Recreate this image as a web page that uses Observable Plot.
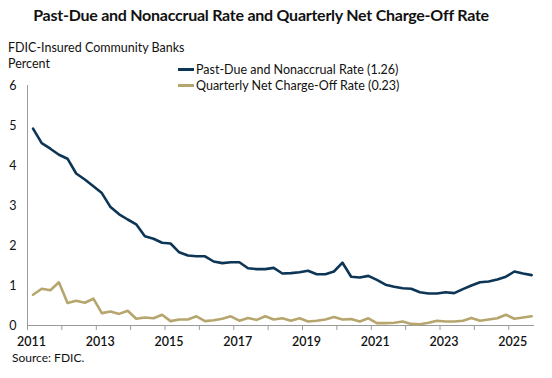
<!DOCTYPE html>
<html>
<head>
<meta charset="utf-8">
<script src="https://cdn.jsdelivr.net/npm/d3@7"></script>
<script src="https://cdn.jsdelivr.net/npm/@observablehq/plot@0.6"></script>
<style>
  body { margin: 0; background: #fff; font-family: Lato, "Open Sans", sans-serif; color: #111; }
  #wrap { position: relative; width: 552px; height: 378px; overflow: hidden; }
  .abs { position: absolute; white-space: nowrap; }
  #title { top: 5px; left: 261px; transform: translateX(-50%); font-size: 16px; font-weight: 700; letter-spacing: -0.25px; }
  #sub1 { top: 40px; left: 8px; font-size: 12.5px; }
  #sub2 { top: 56px; left: 8px; font-size: 12.5px; }
  .leg { left: 178px; font-size: 12.5px; display: flex; align-items: center; }
  .leg span.sw { display: inline-block; width: 16px; height: 3px; margin-right: 2px; }
  #leg1 { top: 62px; }
  #leg2 { top: 78px; }
  #source { top: 350px; left: 12px; font-size: 12px; }
  #chart { position: absolute; top: 75px; left: 0; }
</style>
</head>
<body>
<div id="wrap">
  <div id="title" class="abs">Past-Due and Nonaccrual Rate and Quarterly Net Charge-Off Rate</div>
  <div id="sub1" class="abs">FDIC-Insured Community Banks</div>
  <div id="sub2" class="abs">Percent</div>
  <div id="chart"></div>
  <div id="leg1" class="abs leg"><span class="sw" style="background:#0c3556"></span>Past-Due and Nonaccrual Rate (1.26)</div>
  <div id="leg2" class="abs leg"><span class="sw" style="background:#b6a66e"></span>Quarterly Net Charge-Off Rate (0.23)</div>
  <div id="source" class="abs">Source: FDIC.</div>
</div>
<script>
// Quarterly, 2011Q1 .. 2025Q3
const startYear = 2011;
const pastDueNonaccrual = [
  4.92, 4.56, 4.42, 4.27,
  4.17, 3.80, 3.65, 3.48,
  3.31, 2.96, 2.78, 2.65,
  2.53, 2.23, 2.17, 2.07,
  2.05, 1.83, 1.75, 1.73,
  1.73, 1.60, 1.56, 1.58,
  1.58, 1.43, 1.41, 1.41,
  1.44, 1.30, 1.31, 1.33,
  1.37, 1.28, 1.28, 1.35,
  1.57, 1.22, 1.20, 1.24,
  1.14, 1.02, 0.97, 0.93,
  0.92, 0.83, 0.80, 0.80,
  0.83, 0.81, 0.91, 1.00,
  1.08, 1.10, 1.15, 1.22,
  1.35, 1.30, 1.26
];
const netChargeOff = [
  0.77, 0.92, 0.88, 1.08,
  0.56, 0.62, 0.57, 0.67,
  0.31, 0.35, 0.29, 0.37,
  0.17, 0.20, 0.18, 0.27,
  0.11, 0.15, 0.15, 0.23,
  0.11, 0.13, 0.17, 0.23,
  0.12, 0.19, 0.14, 0.23,
  0.15, 0.18, 0.12, 0.18,
  0.10, 0.12, 0.15, 0.21,
  0.15, 0.16, 0.10, 0.18,
  0.06, 0.06, 0.07, 0.10,
  0.04, 0.03, 0.07, 0.12,
  0.10, 0.10, 0.12, 0.19,
  0.12, 0.15, 0.18, 0.27,
  0.17, 0.20, 0.23
];
const yTicks = [0, 1, 2, 3, 4, 5, 6];
const xTickYears = d3.range(2011, 2026);
const xLabelYears = [2011, 2013, 2015, 2017, 2019, 2021, 2023, 2025];

const dates = pastDueNonaccrual.map((_, i) =>
  new Date(Date.UTC(startYear + Math.floor(i / 4), (i % 4) * 3 + 2, 1)));
const seriesPD = dates.map((d, i) => ({date: d, value: pastDueNonaccrual[i]}));
const seriesNCO = dates.map((d, i) => ({date: d, value: netChargeOff[i]}));
const tickDates = xTickYears.map(y => new Date(Date.UTC(y, 0, 1)));

const chart = Plot.plot({
  width: 552,
  height: 280,
  marginTop: 10,
  marginBottom: 30,
  marginLeft: 27,
  marginRight: 18,
  style: {fontFamily: "Lato, 'Open Sans', sans-serif", fontSize: "12.5px", color: "#111", background: "transparent"},
  x: {type: "utc", domain: [new Date(Date.UTC(2011, 0, 1)), new Date(Date.UTC(2025, 9, 1))]},
  y: {domain: [0, 6]},
  marks: [
    Plot.ruleX([new Date(Date.UTC(2011, 0, 1))], {stroke: "#9a9a9a", strokeWidth: 1}),
    Plot.ruleY([0], {stroke: "#9a9a9a", strokeWidth: 1}),
    Plot.axisY({ticks: yTicks, tickSize: 0, tickPadding: 11, label: null, fontSize: 12.5, tickFormat: d => String(d)}),
    Plot.axisX({ticks: tickDates, tickSize: 5, stroke: "#9a9a9a", text: null, label: null}),
    Plot.axisX({ticks: tickDates, tickSize: 0, tickPadding: 12, dx: 4, label: null, fontSize: 12.5, fontWeight: 600,
      tickFormat: d => xLabelYears.includes(d.getUTCFullYear()) ? String(d.getUTCFullYear()) : ""}),
    Plot.line(seriesNCO, {x: "date", y: "value", stroke: "#b6a66e", strokeWidth: 2.6}),
    Plot.line(seriesPD, {x: "date", y: "value", stroke: "#0c3556", strokeWidth: 2.6})
  ]
});
document.getElementById("chart").appendChild(chart);
</script>
</body>
</html>
